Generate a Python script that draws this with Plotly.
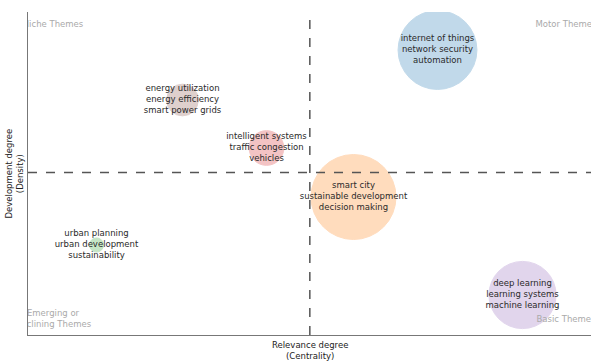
import plotly.graph_objects as go

# Thematic map data
themes = [
    "internet of things<br>network security<br>automation",
    "smart city<br>sustainable development<br>decision making",
    "urban planning<br>urban development<br>sustainability",
    "intelligent systems<br>traffic congestion<br>vehicles",
    "deep learning<br>learning systems<br>machine learning",
    "energy utilization<br>energy efficiency<br>smart power grids",
]
centrality = [4.09, 3.25, 0.68, 2.38, 4.94, 1.54]
density = [2.85, 1.38, 0.90, 1.87, 0.40, 2.35]
occurrences = [62, 72, 2, 12, 45, 10]

colors = ["#1f77b4", "#ff7f0e", "#2ca02c", "#d62728", "#9467bd", "#8c564b"]

quadrant_labels = ["Niche Themes", "Motor Themes", "Emerging or<br>Declining Themes", "Basic Themes"]

FONT = "DejaVu Sans"
FS = 8.5

x_mean = sum(centrality) / len(centrality)
y_mean = sum(density) / len(density)
x_min, x_max = min(centrality), max(centrality)
y_min, y_max = min(density), max(density)
x_pad = 0.685
x_range = [x_min - x_pad, x_max + x_pad]
y_range = [y_min - 0.4, y_max + 0.38]

fig = go.Figure()

sizeref = 2.0 * max(occurrences) / (85 ** 2)
for i in range(len(themes)):
    fig.add_trace(go.Scatter(
        x=[centrality[i]], y=[density[i]],
        mode="markers+text",
        text=[themes[i]],
        textposition="middle center",
        textfont=dict(family=FONT, size=FS, color="#2a2a2a"),
        marker=dict(size=[occurrences[i]], sizemode="area", sizeref=sizeref,
                    color=colors[i], opacity=0.27,
                    line=dict(width=1, color=colors[i])),
        showlegend=False, hoverinfo="text",
    ))

# quadrant labels (clipped by plot area)
qx_off = 0.25
qy_off_top = 0.13
qy_off_bot = 0.155
qx = [x_range[0] + qx_off, x_range[1] - qx_off, x_range[0] + qx_off, x_range[1] - qx_off]
qy = [y_range[1] - qy_off_top, y_range[1] - qy_off_top, y_range[0] + qy_off_bot, y_range[0] + qy_off_bot]
fig.add_trace(go.Scatter(
    x=qx, y=qy, mode="text", text=quadrant_labels,
    textposition="middle center", cliponaxis=True,
    textfont=dict(family=FONT, size=FS, color="#aaaaaa"),
    showlegend=False, hoverinfo="skip",
))

fig.add_shape(type="line", xref="x", yref="paper", x0=x_mean, x1=x_mean, y0=0, y1=1,
              line=dict(color="#555555", width=1.5, dash="dash"))
fig.add_shape(type="line", xref="paper", yref="y", x0=0, x1=1, y0=y_mean, y1=y_mean,
              line=dict(color="#555555", width=1.5, dash="dash"))

fig.update_xaxes(range=x_range, showgrid=False, zeroline=False, showticklabels=False,
                 ticks="", showline=True, linecolor="#777777", linewidth=1,
                 automargin=False)
fig.update_yaxes(range=y_range, showgrid=False, zeroline=False, showticklabels=False,
                 ticks="", showline=True, linecolor="#777777", linewidth=1,
                 automargin=False)

fig.add_annotation(text="Relevance degree<br>(Centrality)", xref="paper", yref="paper",
                   x=0.5, y=0, xanchor="center", yanchor="middle", yshift=-15,
                   showarrow=False, font=dict(family=FONT, size=FS, color="#222222"))
fig.add_annotation(text="Development degree<br>(Density)", xref="paper", yref="paper",
                   x=0, y=0.5, xanchor="center", yanchor="middle", xshift=-14,
                   textangle=-90, showarrow=False,
                   font=dict(family=FONT, size=FS, color="#222222"))

fig.update_layout(
    width=599, height=363,
    margin=dict(l=28, r=8, t=12, b=28),
    plot_bgcolor="white", paper_bgcolor="white",
    font=dict(family=FONT, size=FS),
)

fig.write_html("out.html", config={"displayModeBar": False},
               post_script="document.body.style.margin='0';")
